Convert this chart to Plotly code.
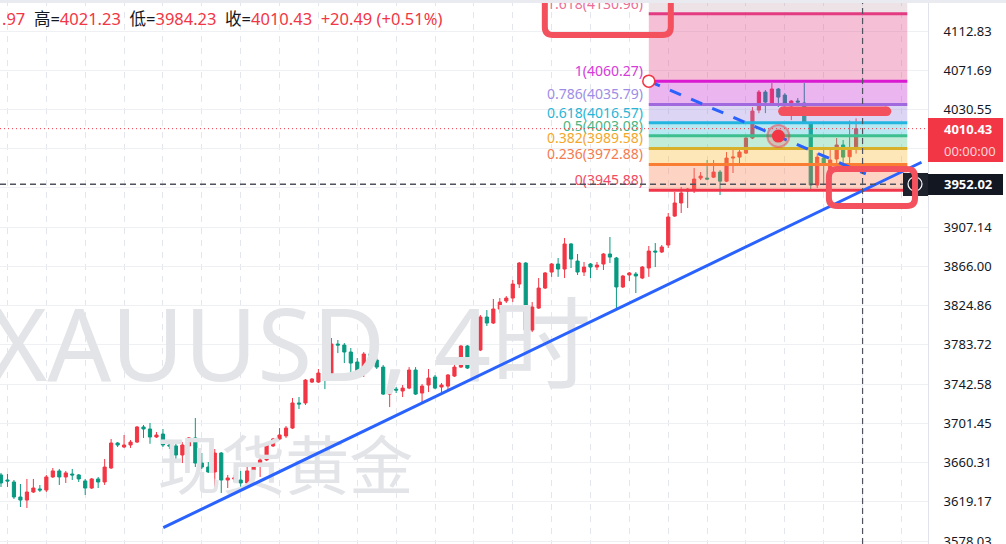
import plotly.graph_objects as go

# XAUUSD 4h bars, oldest first
opens = [
    3647.3, 3642.0, 3639.9, 3624.2, 3621.0, 3629.4, 3632.6, 3631.5, 3645.2, 3651.5,
    3645.2, 3648.3, 3647.3, 3641.0, 3633.6, 3643.1, 3639.9, 3654.6, 3680.8, 3676.6,
    3678.7, 3681.8, 3697.6, 3695.5, 3687.1, 3690.2, 3678.7, 3677.7, 3668.2, 3677.7,
    3686.1, 3659.8, 3655.6, 3650.4, 3670.3, 3642.0, 3643.1, 3642.0, 3638.9, 3652.5,
    3656.7, 3663.0, 3677.7, 3685.0, 3688.2, 3696.5, 3722.8, 3722.8, 3744.7, 3744.7,
    3754.2, 3750.0, 3784.6, 3783.5, 3776.2, 3765.7, 3755.2, 3774.1, 3767.8, 3760.4,
    3732.1, 3737.3, 3735.3, 3738.4, 3757.3, 3733.2, 3741.6, 3750.0, 3739.5, 3740.5,
    3751.0, 3760.4, 3782.5, 3758.4, 3778.3, 3812.9, 3806.6, 3821.3, 3829.7, 3832.8,
    3847.5, 3869.5, 3799.2, 3822.3, 3843.3, 3860.1, 3868.5, 3863.2, 3889.5, 3871.6,
    3860.1, 3868.5, 3865.3, 3868.5, 3879.0, 3874.8, 3844.4, 3857.0, 3858.0, 3853.8,
    3864.3, 3882.1, 3881.1, 3888.4, 3918.8, 3932.5, 3945.0, 3946.1, 3958.6, 3958.6,
    3959.6, 3964.9, 3955.4, 3979.6, 3980.6, 3984.8, 4000.6, 4029.9, 4048.8, 4037.3,
    4052.0, 4045.6, 4034.1, 4039.4, 4037.3, 4015.3, 3951.3, 3979.6, 3967.0, 3978.6,
    3993.3, 3981.0, 3989.97]
highs = [
    3649.4, 3648.3, 3642.0, 3637.8, 3643.1, 3643.1, 3636.8, 3647.3, 3654.6, 3653.6,
    3651.5, 3653.6, 3648.3, 3643.1, 3644.1, 3645.2, 3664.0, 3685.0, 3681.8, 3689.2,
    3684.0, 3698.6, 3699.7, 3701.8, 3692.3, 3695.5, 3684.0, 3681.8, 3681.8, 3687.1,
    3707.0, 3670.3, 3660.9, 3674.5, 3671.4, 3647.3, 3647.3, 3651.5, 3659.8, 3659.8,
    3665.1, 3680.8, 3686.1, 3696.5, 3698.6, 3728.0, 3729.0, 3747.9, 3748.9, 3758.4,
    3758.4, 3790.9, 3788.8, 3785.6, 3780.4, 3769.9, 3776.2, 3778.3, 3770.9, 3762.6,
    3737.3, 3739.5, 3741.6, 3760.4, 3760.4, 3742.6, 3758.4, 3752.1, 3743.7, 3753.1,
    3765.7, 3783.5, 3783.5, 3788.8, 3815.0, 3820.2, 3831.8, 3832.8, 3834.9, 3851.7,
    3870.6, 3870.6, 3828.6, 3853.8, 3860.1, 3869.5, 3874.8, 3895.8, 3890.5, 3879.0,
    3870.6, 3869.5, 3870.6, 3880.0, 3896.8, 3875.9, 3857.0, 3860.1, 3860.1, 3866.4,
    3887.4, 3890.5, 3888.4, 3922.0, 3944.0, 3949.3, 3948.2, 3969.1, 3964.9, 3977.5,
    3977.5, 3967.0, 3985.9, 3988.0, 3988.0, 4001.6, 4033.1, 4050.9, 4050.9, 4058.2,
    4053.0, 4047.7, 4040.4, 4042.5, 4058.2, 4017.4, 3984.8, 3989.1, 3988.0, 4000.6,
    3998.5, 4019.0, 4021.23]
lows = [
    3634.7, 3634.7, 3622.1, 3613.7, 3612.6, 3628.4, 3629.4, 3629.4, 3644.1, 3636.8,
    3638.9, 3642.0, 3639.9, 3626.3, 3632.6, 3633.6, 3636.8, 3653.6, 3676.6, 3675.6,
    3675.6, 3680.8, 3686.1, 3680.0, 3686.1, 3676.6, 3674.5, 3663.0, 3659.8, 3676.6,
    3655.6, 3653.6, 3649.4, 3633.6, 3628.4, 3633.6, 3639.9, 3631.5, 3637.8, 3644.1,
    3645.2, 3661.9, 3676.6, 3684.0, 3686.1, 3695.5, 3716.5, 3720.7, 3743.7, 3743.7,
    3737.3, 3748.9, 3775.1, 3764.6, 3752.1, 3754.2, 3750.0, 3762.6, 3758.4, 3731.1,
    3718.5, 3733.2, 3729.0, 3737.3, 3731.1, 3723.8, 3734.2, 3737.3, 3734.2, 3736.3,
    3750.0, 3759.4, 3758.4, 3756.3, 3777.2, 3803.5, 3805.6, 3817.0, 3827.6, 3828.6,
    3843.3, 3791.9, 3797.1, 3821.3, 3842.3, 3855.0, 3855.0, 3853.8, 3864.3, 3857.0,
    3855.9, 3853.8, 3862.2, 3862.2, 3869.5, 3820.2, 3843.3, 3850.7, 3838.1, 3852.7,
    3855.0, 3865.3, 3880.0, 3885.3, 3917.8, 3922.0, 3927.2, 3942.9, 3956.5, 3956.5,
    3958.6, 3940.8, 3954.4, 3963.9, 3973.9, 3983.8, 3999.5, 4026.7, 4026.7, 4035.2,
    4033.1, 4024.7, 4019.4, 4034.1, 4016.3, 3947.1, 3948.2, 3951.3, 3958.6, 3972.3,
    3971.2, 3972.3, 3984.23]
closes = [
    3638.9, 3641.0, 3624.2, 3621.0, 3629.4, 3633.6, 3631.5, 3645.2, 3651.5, 3645.2,
    3649.4, 3647.3, 3643.1, 3633.6, 3643.1, 3639.9, 3655.6, 3680.8, 3678.7, 3678.7,
    3681.8, 3697.6, 3695.5, 3687.1, 3689.2, 3678.7, 3677.7, 3668.2, 3678.7, 3686.1,
    3659.8, 3655.6, 3650.4, 3670.3, 3642.0, 3644.1, 3644.1, 3638.9, 3651.5, 3656.7,
    3663.0, 3678.7, 3685.0, 3689.2, 3696.5, 3722.8, 3721.7, 3746.8, 3747.9, 3754.2,
    3752.1, 3784.6, 3783.5, 3776.2, 3764.6, 3755.2, 3774.1, 3767.8, 3760.4, 3732.1,
    3735.3, 3736.3, 3738.4, 3757.3, 3732.1, 3740.5, 3748.9, 3738.4, 3741.6, 3752.1,
    3760.4, 3782.5, 3759.4, 3778.3, 3812.9, 3806.6, 3821.3, 3828.6, 3832.8, 3847.5,
    3869.5, 3799.2, 3823.4, 3843.3, 3859.1, 3868.5, 3863.2, 3889.5, 3873.7, 3860.1,
    3865.3, 3865.3, 3867.4, 3879.0, 3875.8, 3844.4, 3855.9, 3859.1, 3855.9, 3865.3,
    3882.1, 3881.1, 3886.3, 3917.8, 3932.5, 3943.0, 3947.1, 3957.6, 3960.7, 3957.6,
    3964.9, 3955.4, 3979.6, 3980.6, 3985.9, 4000.6, 4028.9, 4048.8, 4038.3, 4052.0,
    4043.5, 4035.2, 4039.4, 4038.3, 4017.4, 3951.3, 3980.6, 3973.3, 3977.5, 3993.3,
    3980.6, 3989.94, 4010.43]
bars = list(range(len(closes)))

price_ticks = [4112.83, 4071.69, 4030.55, 3989.41, 3948.28, 3907.14, 3866.00,
               3824.86, 3783.72, 3742.58, 3701.45, 3660.31, 3619.17, 3578.03]
hidden_ticks = [3989.41, 3948.28]   # covered by the price tags

fib_ratios = ["1.618", "1", "0.786", "0.618", "0.5", "0.382", "0.236", "0"]
fib_prices = [4130.96, 4060.27, 4035.79, 4016.57, 4003.08, 3989.58, 3972.88, 3945.88]
fib_line_colors = ["#e33b82", "#d91ad0", "#a06ade", "#22b5e0", "#3dbf8f", "#d8b02a", "#f97d33", "#f0364a"]
fib_text_colors = ["#ec6d96", "#d63ad9", "#9d8de6", "#29b6d6", "#4db584", "#f4a72b", "#f47a4f", "#ef4b63"]
# band above 1.618, then the band between each pair of levels
fib_band_colors = ["rgba(190,150,160,0.28)", "rgba(226,72,138,0.35)", "rgba(198,44,212,0.35)",
                   "rgba(155,135,221,0.35)", "rgba(52,192,218,0.35)", "rgba(84,201,144,0.35)",
                   "rgba(249,184,52,0.35)", "rgba(249,132,86,0.35)"]
fib_start, fib_end = 100, 139.9

trend_pts = [(25.05, 3592.0), (142.1, 3975.2)]
dash_pts = [(100.0, 4060.27), (133.5, 3962.9)]
mark_pt = (120.0, 4002.7)
bar_pts = [(120.7, 4028.6), (136.7, 4028.6)]
box1 = (83.95, 103.4, 4108.6, 4170.0)
box2 = (127.8, 141.1, 3929.3, 3968.1)
cross_bar = 133
cross_price = 3952.02

RED = "#f23645"
GREEN = "#089981"
BLUE = "#2962ff"
MARK = "#f4515f"
FONT = "Noto Sans, Noto Sans CJK SC, sans-serif"

W, H = 1006, 544
PANE = 928
xr = [-0.154, 143.1]
yr = [3574.9, 4145.34]


def py(px):
    return 1 - px / H


def rounded(x0, x1, y0, y1, rx=1.25, ry=8.4):
    return (f"M {x0+rx},{y1} L {x1-rx},{y1} Q {x1},{y1} {x1},{y1-ry} "
            f"L {x1},{y0+ry} Q {x1},{y0} {x1-rx},{y0} L {x0+rx},{y0} "
            f"Q {x0},{y0} {x0},{y0+ry} L {x0},{y1-ry} Q {x0},{y1} {x0+rx},{y1} Z")


fig = go.Figure()

# watermark, under the candles
fig.add_trace(go.Scatter(x=[44.6], y=[3772.0], mode="text", text=["XAUUSD, 4时"],
                         textfont=dict(size=100, color="#e3e4e8", family=FONT),
                         hoverinfo="skip"))
fig.add_trace(go.Scatter(x=[43.9], y=[3649.5], mode="text", text=["现货黄金"],
                         textfont=dict(size=64, color="#e3e4e8", family=FONT),
                         hoverinfo="skip"))

fig.add_trace(go.Candlestick(
    x=bars, open=opens, high=highs, low=lows, close=closes,
    increasing=dict(line=dict(color=RED, width=1), fillcolor=RED),
    decreasing=dict(line=dict(color=GREEN, width=1), fillcolor=GREEN),
    whiskerwidth=0, hoverinfo="skip"))

# fib labels left of the box
fig.add_trace(go.Scatter(
    x=[fib_start - 0.9] * len(fib_prices), y=[p + 9 for p in fib_prices], mode="text",
    text=[f"{r}({p:.2f})" for r, p in zip(fib_ratios, fib_prices)],
    textposition="middle left",
    textfont=dict(size=14, color=fib_text_colors, family=FONT), hoverinfo="skip"))

shapes = []
# fib bands and levels drawn over the candles
tops = [4170.0] + fib_prices[:-1]
for top, bot, col in zip(tops, fib_prices, fib_band_colors):
    shapes.append(dict(type="rect", x0=fib_start, x1=fib_end, y0=bot, y1=top,
                       fillcolor=col, line_width=0, layer="above"))
for p, col in zip(fib_prices, fib_line_colors):
    shapes.append(dict(type="line", x0=fib_start, x1=fib_end, y0=p, y1=p,
                       line=dict(color=col, width=3), layer="above"))

# last price dotted line
shapes.append(dict(type="line", xref="paper", x0=0, x1=PANE / W, y0=closes[-1], y1=closes[-1],
                   line=dict(color=RED, width=1, dash="1px,3px"), layer="above"))

# blue drawings
shapes.append(dict(type="line", x0=dash_pts[0][0], y0=dash_pts[0][1], x1=dash_pts[1][0], y1=dash_pts[1][1],
                   line=dict(color=BLUE, width=3, dash="12px,11px"), layer="above"))
shapes.append(dict(type="line", x0=trend_pts[0][0], y0=trend_pts[0][1], x1=trend_pts[1][0], y1=trend_pts[1][1],
                   line=dict(color=BLUE, width=3), layer="above"))

# crosshair
shapes.append(dict(type="line", x0=cross_bar, x1=cross_bar, yref="paper", y0=0, y1=1,
                   line=dict(color="#50535e", width=1.2, dash="6px,4px"), layer="above"))
shapes.append(dict(type="line", xref="paper", x0=0, x1=PANE / W, y0=cross_price, y1=cross_price,
                   line=dict(color="#50535e", width=1.5, dash="6px,4px"), layer="above"))


def dot(x, y, r, fill, line_col=None, lw=0):
    return dict(type="circle", xsizemode="pixel", ysizemode="pixel", xanchor=x, yanchor=y,
                x0=-r, x1=r, y0=-r, y1=r, fillcolor=fill,
                line=dict(color=line_col or fill, width=lw), layer="above")


shapes.append(dot(mark_pt[0], mark_pt[1], 11, "rgba(242,54,69,0.22)", "rgba(242,54,69,0.45)", 2))
shapes.append(dot(mark_pt[0], mark_pt[1], 6.5, RED))

shapes.append(dict(type="line", x0=bar_pts[0][0], y0=bar_pts[0][1], x1=bar_pts[1][0], y1=bar_pts[1][1],
                   line=dict(color=MARK, width=9.5), layer="above"))
for bx, by in bar_pts:
    shapes.append(dot(bx, by, 4.75, MARK))

shapes.append(dot(fib_start, fib_prices[1], 6, "white", RED, 1.5))

# crosshair button at the pane edge
shapes.append(dict(type="rect", xref="paper", yref="paper", x0=903 / W, x1=PANE / W,
                   y0=py(196), y1=py(173), fillcolor="#1e222d", line_width=0, layer="above"))
shapes.append(dict(type="circle", xref="paper", yref="paper", x0=908 / W, x1=922 / W,
                   y0=py(191), y1=py(177), line=dict(color="white", width=1.2), layer="above"))

# red rounded highlight boxes
for bx in (box1, box2):
    shapes.append(dict(type="path", path=rounded(*bx), line=dict(color=MARK, width=6),
                       fillcolor="rgba(0,0,0,0)", layer="above"))

# price axis tags
shapes.append(dict(type="rect", xref="paper", yref="paper", x0=PANE / W, x1=1003 / W,
                   y0=py(140), y1=py(118), fillcolor=RED, line_width=0, layer="above"))
shapes.append(dict(type="rect", xref="paper", yref="paper", x0=PANE / W, x1=1003 / W,
                   y0=py(162), y1=py(140), fillcolor=RED, line_width=0, layer="above"))
shapes.append(dict(type="rect", xref="paper", yref="paper", x0=PANE / W, x1=1003 / W,
                   y0=py(195), y1=py(174), fillcolor="#131722", line_width=0, layer="above"))
shapes.append(dict(type="rect", xref="paper", yref="paper", x0=0, x1=1,
                   y0=py(3), y1=1, fillcolor="#e9ebf0", line_width=0, layer="above"))

annotations = [
    dict(xref="paper", yref="paper", x=942 / W, y=py(129), xanchor="left", yanchor="middle",
         text=f"<b>{closes[-1]:.2f}</b>", showarrow=False, font=dict(size=13, color="white")),
    dict(xref="paper", yref="paper", x=942 / W, y=py(151), xanchor="left", yanchor="middle",
         text="00:00:00", showarrow=False, font=dict(size=13, color="#fdd3d7")),
    dict(xref="paper", yref="paper", x=942 / W, y=py(184.5), xanchor="left", yanchor="middle",
         text=f"<b>{cross_price:.2f}</b>", showarrow=False, font=dict(size=13, color="white")),
]

chg = closes[-1] - closes[-2]
pct = chg / closes[-2] * 100
k = "#131722"
header = (f"<span style='color:{RED}'>" + f"{opens[-1]:.2f}"[-3:] + "</span>"
          f"<span style='color:{k}'>  高=</span><span style='color:{RED}'>{highs[-1]:.2f}</span>"
          f"<span style='color:{k}'>  低=</span><span style='color:{RED}'>{lows[-1]:.2f}</span>"
          f"<span style='color:{k}'>  收=</span><span style='color:{RED}'>{closes[-1]:.2f}</span>"
          f"<span style='color:{RED}'>  {chg:+.2f} ({pct:+.2f}%)</span>")
annotations.append(dict(xref="paper", yref="paper", x=0, y=py(19), xanchor="left", yanchor="middle",
                        text=header, showarrow=False, font=dict(size=16.5, family=FONT)))

fig.update_layout(
    width=W, height=H, margin=dict(l=0, r=0, t=0, b=0),
    paper_bgcolor="white", plot_bgcolor="white", showlegend=False,
    font=dict(family=FONT, color="#131722"),
    shapes=shapes, annotations=annotations,
    xaxis=dict(domain=[0, PANE / W], range=xr, tickvals=list(range(1, 143, 6)),
               showticklabels=False, showgrid=True, gridcolor="#e3e6ec", griddash="6px,6px",
               zeroline=False, rangeslider=dict(visible=False), ticks="", automargin=False),
    yaxis=dict(side="right", range=yr, tickvals=price_ticks,
               ticktext=["" if t in hidden_ticks else f"{t:.2f}" for t in price_ticks],
               showgrid=True, gridcolor="#eef0f4", zeroline=False, showline=True,
               linecolor="#e0e3eb", ticks="", ticklabelstandoff=12, ticklabeloverflow="allow",
               automargin=False, tickfont=dict(size=13, color="#131722", family=FONT)),
)

# the page body has an 8px default margin; drop it so the chart sits at 0,0
fig.write_html("out.html", config={"displayModeBar": False},
               post_script="document.body.style.margin='0';")
